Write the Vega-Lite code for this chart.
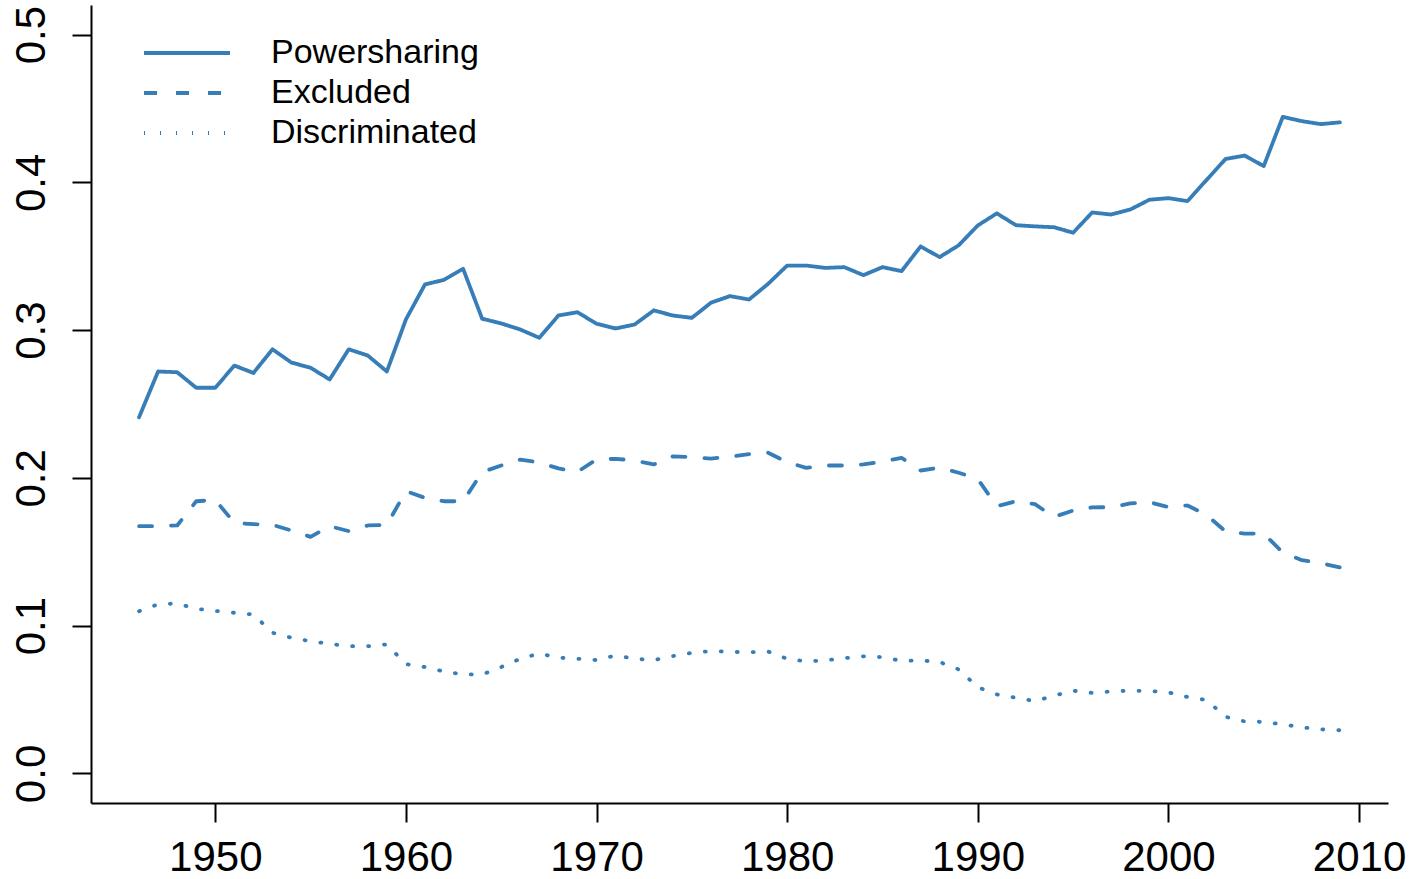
{
  "$schema": "https://vega.github.io/schema/vega-lite/v6.json",
  "width": 1297,
  "height": 798,
  "autosize": {"type": "none"},
  "padding": {"left": 91, "top": 5, "right": 28, "bottom": 76},
  "background": "white",
  "config": {"view": {"stroke": null}, "font": "Liberation Sans"},
  "data": {
    "values": [
      {"year": 1946, "Powersharing": 0.241, "Excluded": 0.1673, "Discriminated": 0.1098},
      {"year": 1947, "Powersharing": 0.272, "Excluded": 0.1673, "Discriminated": 0.1145},
      {"year": 1948, "Powersharing": 0.2715, "Excluded": 0.1678, "Discriminated": 0.115},
      {"year": 1949, "Powersharing": 0.261, "Excluded": 0.1842, "Discriminated": 0.1114},
      {"year": 1950, "Powersharing": 0.261, "Excluded": 0.185, "Discriminated": 0.11},
      {"year": 1951, "Powersharing": 0.276, "Excluded": 0.1696, "Discriminated": 0.1087},
      {"year": 1952, "Powersharing": 0.271, "Excluded": 0.1687, "Discriminated": 0.1076},
      {"year": 1953, "Powersharing": 0.287, "Excluded": 0.1682, "Discriminated": 0.0952},
      {"year": 1954, "Powersharing": 0.278, "Excluded": 0.1644, "Discriminated": 0.0918},
      {"year": 1955, "Powersharing": 0.2745, "Excluded": 0.1601, "Discriminated": 0.0895},
      {"year": 1956, "Powersharing": 0.2666, "Excluded": 0.1673, "Discriminated": 0.0877},
      {"year": 1957, "Powersharing": 0.287, "Excluded": 0.164, "Discriminated": 0.0861},
      {"year": 1958, "Powersharing": 0.2828, "Excluded": 0.1678, "Discriminated": 0.0861},
      {"year": 1959, "Powersharing": 0.272, "Excluded": 0.1682, "Discriminated": 0.0873},
      {"year": 1960, "Powersharing": 0.3072, "Excluded": 0.191, "Discriminated": 0.074},
      {"year": 1961, "Powersharing": 0.3309, "Excluded": 0.1865, "Discriminated": 0.072},
      {"year": 1962, "Powersharing": 0.334, "Excluded": 0.1842, "Discriminated": 0.069},
      {"year": 1963, "Powersharing": 0.3415, "Excluded": 0.1842, "Discriminated": 0.067},
      {"year": 1964, "Powersharing": 0.3077, "Excluded": 0.2039, "Discriminated": 0.067},
      {"year": 1965, "Powersharing": 0.3045, "Excluded": 0.2084, "Discriminated": 0.072},
      {"year": 1966, "Powersharing": 0.3004, "Excluded": 0.2124, "Discriminated": 0.0776},
      {"year": 1967, "Powersharing": 0.2948, "Excluded": 0.2104, "Discriminated": 0.0812},
      {"year": 1968, "Powersharing": 0.3099, "Excluded": 0.2064, "Discriminated": 0.0783},
      {"year": 1969, "Powersharing": 0.3121, "Excluded": 0.2041, "Discriminated": 0.0776},
      {"year": 1970, "Powersharing": 0.3043, "Excluded": 0.2124, "Discriminated": 0.0767},
      {"year": 1971, "Powersharing": 0.3011, "Excluded": 0.2129, "Discriminated": 0.0798},
      {"year": 1972, "Powersharing": 0.3038, "Excluded": 0.2118, "Discriminated": 0.0776},
      {"year": 1973, "Powersharing": 0.3133, "Excluded": 0.2091, "Discriminated": 0.0767},
      {"year": 1974, "Powersharing": 0.3099, "Excluded": 0.2146, "Discriminated": 0.0794},
      {"year": 1975, "Powersharing": 0.3083, "Excluded": 0.214, "Discriminated": 0.0816},
      {"year": 1976, "Powersharing": 0.3185, "Excluded": 0.2131, "Discriminated": 0.0828},
      {"year": 1977, "Powersharing": 0.323, "Excluded": 0.2143, "Discriminated": 0.0823},
      {"year": 1978, "Powersharing": 0.3207, "Excluded": 0.2161, "Discriminated": 0.082},
      {"year": 1979, "Powersharing": 0.3313, "Excluded": 0.217, "Discriminated": 0.0825},
      {"year": 1980, "Powersharing": 0.3437, "Excluded": 0.2106, "Discriminated": 0.0776},
      {"year": 1981, "Powersharing": 0.3437, "Excluded": 0.2068, "Discriminated": 0.0758},
      {"year": 1982, "Powersharing": 0.3421, "Excluded": 0.2084, "Discriminated": 0.0765},
      {"year": 1983, "Powersharing": 0.3426, "Excluded": 0.2084, "Discriminated": 0.078},
      {"year": 1984, "Powersharing": 0.3372, "Excluded": 0.2091, "Discriminated": 0.0792},
      {"year": 1985, "Powersharing": 0.3426, "Excluded": 0.2111, "Discriminated": 0.0787},
      {"year": 1986, "Powersharing": 0.3399, "Excluded": 0.2136, "Discriminated": 0.0762},
      {"year": 1987, "Powersharing": 0.3566, "Excluded": 0.205, "Discriminated": 0.0765},
      {"year": 1988, "Powersharing": 0.3494, "Excluded": 0.207, "Discriminated": 0.0754},
      {"year": 1989, "Powersharing": 0.3574, "Excluded": 0.2035, "Discriminated": 0.0704},
      {"year": 1990, "Powersharing": 0.3708, "Excluded": 0.1992, "Discriminated": 0.0583},
      {"year": 1991, "Powersharing": 0.379, "Excluded": 0.1808, "Discriminated": 0.0535},
      {"year": 1992, "Powersharing": 0.371, "Excluded": 0.1842, "Discriminated": 0.0512},
      {"year": 1993, "Powersharing": 0.3702, "Excluded": 0.1822, "Discriminated": 0.0489},
      {"year": 1994, "Powersharing": 0.3696, "Excluded": 0.1736, "Discriminated": 0.0526},
      {"year": 1995, "Powersharing": 0.3659, "Excluded": 0.1779, "Discriminated": 0.056},
      {"year": 1996, "Powersharing": 0.3796, "Excluded": 0.18, "Discriminated": 0.0545},
      {"year": 1997, "Powersharing": 0.3782, "Excluded": 0.1802, "Discriminated": 0.0555},
      {"year": 1998, "Powersharing": 0.3816, "Excluded": 0.1827, "Discriminated": 0.056},
      {"year": 1999, "Powersharing": 0.3882, "Excluded": 0.1836, "Discriminated": 0.0558},
      {"year": 2000, "Powersharing": 0.3893, "Excluded": 0.1802, "Discriminated": 0.0548},
      {"year": 2001, "Powersharing": 0.3873, "Excluded": 0.1813, "Discriminated": 0.0517},
      {"year": 2002, "Powersharing": 0.4016, "Excluded": 0.175, "Discriminated": 0.0497},
      {"year": 2003, "Powersharing": 0.4158, "Excluded": 0.1637, "Discriminated": 0.0383},
      {"year": 2004, "Powersharing": 0.4181, "Excluded": 0.1623, "Discriminated": 0.0352},
      {"year": 2005, "Powersharing": 0.411, "Excluded": 0.1623, "Discriminated": 0.0349},
      {"year": 2006, "Powersharing": 0.4443, "Excluded": 0.1495, "Discriminated": 0.0332},
      {"year": 2007, "Powersharing": 0.4414, "Excluded": 0.1443, "Discriminated": 0.0312},
      {"year": 2008, "Powersharing": 0.4394, "Excluded": 0.1423, "Discriminated": 0.0298},
      {"year": 2009, "Powersharing": 0.4406, "Excluded": 0.1394, "Discriminated": 0.0292}
    ]
  },
  "transform": [
    {"fold": ["Powersharing", "Excluded", "Discriminated"], "as": ["series", "value"]}
  ],
  "mark": {"type": "line", "color": "#377EB8", "strokeWidth": 3.8, "strokeCap": "round", "strokeJoin": "round"},
  "encoding": {
    "x": {
      "field": "year",
      "type": "quantitative",
      "scale": {"domain": [1943.48, 2011.52], "nice": false, "zero": false},
      "axis": {
        "title": null,
        "values": [1950, 1960, 1970, 1980, 1990, 2000, 2010],
        "format": "d",
        "grid": false,
        "domainColor": "black",
        "domainWidth": 2,
        "tickColor": "black",
        "tickWidth": 2,
        "tickSize": 19,
        "labelColor": "black",
        "labelFont": "Liberation Sans",
        "labelFontSize": 42,
        "labelPadding": 15,
        "labelFlush": false,
        "labelOverlap": false
      }
    },
    "y": {
      "field": "value",
      "type": "quantitative",
      "scale": {"domain": [-0.02, 0.52], "nice": false, "zero": false},
      "axis": {
        "title": null,
        "values": [0, 0.1, 0.2, 0.3, 0.4, 0.5],
        "format": ".1f",
        "grid": false,
        "domainColor": "black",
        "domainWidth": 2,
        "tickColor": "black",
        "tickWidth": 2,
        "tickSize": 19,
        "labelColor": "black",
        "labelFont": "Liberation Sans",
        "labelFontSize": 42,
        "labelAngle": -90,
        "labelAlign": "center",
        "labelBaseline": "bottom",
        "labelPadding": 19,
        "labelFlush": false,
        "labelOverlap": false
      }
    },
    "strokeDash": {
      "field": "series",
      "type": "nominal",
      "scale": {
        "domain": ["Powersharing", "Excluded", "Discriminated"],
        "range": [[1, 0], [13, 19], [1, 15]]
      },
      "legend": {
        "title": null,
        "orient": "none",
        "legendX": 51,
        "legendY": 31,
        "padding": 0,
        "symbolType": "stroke",
        "symbolSize": 7396,
        "symbolStrokeWidth": 3.8,
        "symbolStrokeColor": "#377EB8",
        "labelFont": "Liberation Sans",
        "labelFontSize": 34,
        "labelColor": "black",
        "labelOffset": 39,
        "clipHeight": 34,
        "rowPadding": 6,
        "labelLimit": 0
      }
    }
  }
}
